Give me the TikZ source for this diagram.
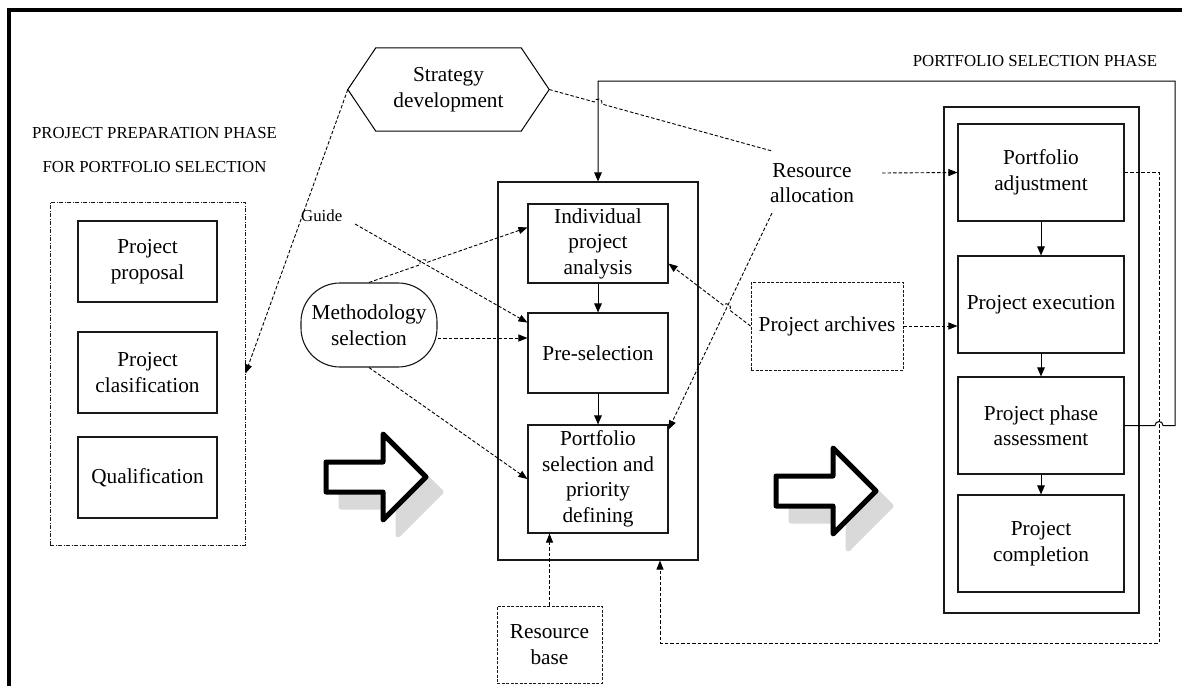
\documentclass[tikz,border=0pt]{standalone}
\usepackage{fontspec}
\setmainfont{Liberation Serif}
\usetikzlibrary{arrows.meta,calc}
\newcommand\mainfs{\fontsize{21.3}{25.5}\selectfont}
\newcommand\capfs{\fontsize{16.8}{20}\selectfont}
\definecolor{shadowc}{HTML}{D9D9D9}
\tikzset{
  box/.style={draw=black!90, line width=1.1pt, align=center, inner sep=2pt, font=\mainfs},
  txt/.style={align=center, inner sep=2pt, font=\mainfs},
  captxt/.style={inner sep=0pt, font=\capfs},
  dbox/.style={box, line width=0.9pt, dash pattern=on 3pt off 1.5pt},
  ddbox/.style={box, line width=0.9pt, dash pattern=on 4pt off 1.5pt on 1pt off 1.5pt},
  dline/.style={line width=0.9pt, dash pattern=on 3.5pt off 2pt},
  darrow/.style={dline, -{Triangle[length=9pt,width=7pt]}},
  sline/.style={line width=1pt},
  sarrow/.style={sline, -{Triangle[length=9pt,width=7.5pt]}},
  blockarrow/.pic={
    \begin{scope}[shift={(15,15)}]
      \filldraw[fill=shadowc, draw=shadowc, line width=5pt, line join=round]
        (0,-15) -- (57,-15) -- (57,-43) -- (100,0) -- (57,43) -- (57,15) -- (0,15) -- cycle;
    \end{scope}
    \filldraw[fill=white, draw=black, line width=5pt, line join=round]
      (0,-15) -- (57,-15) -- (57,-43) -- (100,0) -- (57,43) -- (57,15) -- (0,15) -- cycle;
  }
}
\begin{document}
\begin{tikzpicture}[x=1pt,y=-1pt]
\useasboundingbox (0,0) rectangle (1182,685);
\clip (0,0) rectangle (1182,685);
\fill[white] (0,0) rectangle (1182,685);
% outer frame
\draw[line width=4pt] (8.5,700) -- (8.5,10.3) -- (1200,10.3);

% captions
\node[captxt] (capA) at (154.5,133) {PROJECT PREPARATION PHASE};
\node[captxt] (capB) at (154.5,167) {FOR PORTFOLIO SELECTION};
\node[captxt] (capC) at (1035,61) {PORTFOLIO SELECTION PHASE};

% left group
\node[ddbox, minimum width=195pt, minimum height=343pt] (lbox) at (147.5,373.5) {};
\node[box, minimum width=139pt, minimum height=81pt] (prop) at (147.5,261.5) {Project\\proposal};
\node[box, minimum width=139pt, minimum height=81pt] (clas) at (147.5,372.5) {Project\\clasification};
\node[box, minimum width=139pt, minimum height=81pt] (qual) at (147.5,477.5) {Qualification};

% strategy hexagon
\node[txt, minimum width=201pt, minimum height=83pt] (strat) at (448.5,89.5) {Strategy\\development};
\draw[sline] (strat.west) -- ($(strat.north west)+(28,0)$) -- ($(strat.north east)+(-28,0)$)
  -- (strat.east) -- ($(strat.south east)+(-28,0)$) -- ($(strat.south west)+(28,0)$) -- cycle;

% methodology
\node[box, rounded corners=39pt, minimum width=136pt, minimum height=84pt] (meth) at (369,325) {Methodology\\selection};
\node[captxt, anchor=west] (guide) at (301,216) {Guide};

% center group
\node[box, minimum width=200pt, minimum height=378pt] (cont) at (598,371) {};
\node[box, minimum width=140pt, minimum height=79pt] (ind) at (598,243.5) {Individual\\project\\analysis};
\node[box, minimum width=140pt, minimum height=80pt] (pre) at (598,353) {Pre-selection};
\node[box, minimum width=140pt, minimum height=108pt] (psel) at (598,479) {Portfolio\\selection and\\priority\\defining};

% right group
\node[box, minimum width=195pt, minimum height=506pt] (rcont) at (1041.5,360) {};
\node[box, minimum width=166pt, minimum height=97pt] (adj) at (1041,172.5) {Portfolio\\adjustment};
\node[box, minimum width=166pt, minimum height=97pt] (exec) at (1041,304.5) {Project execution};
\node[box, minimum width=166pt, minimum height=97pt] (asm) at (1041,425.5) {Project phase\\assessment};
\node[box, minimum width=166pt, minimum height=97pt] (comp) at (1041,543.5) {Project\\completion};

% others
\node[txt] (ra) at (812,183) {Resource\\allocation};
\node[dbox, minimum width=152pt, minimum height=88pt] (arch) at (827,326) {Project archives};
\node[dbox, minimum width=105pt, minimum height=77pt] (rb) at (549.5,644.5) {Resource\\base};

% block arrows
\pic at (326,477) {blockarrow};
\pic at (776,491) {blockarrow};

% coordinates
\coordinate (raN) at (772,151);
\coordinate (raS) at (772,213);
\coordinate (raE) at (882,173);
\coordinate (gE) at (355,224);
\coordinate (loopR) at (1175,81);
\coordinate (fbR) at (1159,643);
\coordinate (fbL) at (660,643);
\coordinate (indIn) at ($(ind.north west)!0.3!(ind.south west)$);
\coordinate (indOut) at ($(ind.south east)+(0,-20)$);

% connectors
\draw[dline] (strat.east) -- ($(strat.east)!0.2024!(raN)$)
  .. controls +(1.4,-5.1) and +(1.4,-5.1) .. ($(strat.east)!0.2370!(raN)$) -- (raN);
\draw[darrow] (strat.west) -- (lbox.east);
\draw[darrow] (gE) -- ($(pre.north west)!0.125!(pre.south west)$);
\draw[darrow] (meth.north) -- ($(meth.north)!0.321!(indIn)$)
  .. controls +(-1.8,-5) and +(-1.8,-5) .. ($(meth.north)!0.369!(indIn)$) -- (indIn);
\draw[darrow] ($(meth.east)+(0,13)$) -- ($(pre.west)+(0,-15)$);
\draw[darrow] (meth.south) -- (psel.west);
\draw[darrow] (raS) -- ($(psel.north east)+(0,5)$);
\draw[darrow] (raE) -- (adj.west);
\draw[darrow] (arch.west) -- ($(arch.west)!0.2545!(indOut)$)
  .. controls +(3.2,-4.2) and +(3.2,-4.2) .. ($(arch.west)!0.3313!(indOut)$) -- (indOut);
\draw[darrow] (arch.east) -- (arch.east -| exec.west);
\draw[darrow] (rb.north) -- (rb.north |- psel.south);
\draw[darrow] (adj.east) -- (adj.east -| fbR) -- (fbR) -- (fbL) -- (fbL |- cont.south);
\draw[sarrow] (asm.east) -- ($(asm.east -| fbR)+(-4,0)$)
  .. controls +(0,-5.3) and +(0,-5.3) .. ($(asm.east -| fbR)+(4,0)$)
  -- (asm.east -| loopR) -- (loopR) -- (loopR -| cont.north) -- (cont.north);
\draw[sarrow] (ind.south) -- (pre.north);
\draw[sarrow] (pre.south) -- (psel.north);
\draw[sarrow] (adj.south) -- (exec.north);
\draw[sarrow] (exec.south) -- (asm.north);
\draw[sarrow] (asm.south) -- (comp.north);
\end{tikzpicture}
\end{document}
